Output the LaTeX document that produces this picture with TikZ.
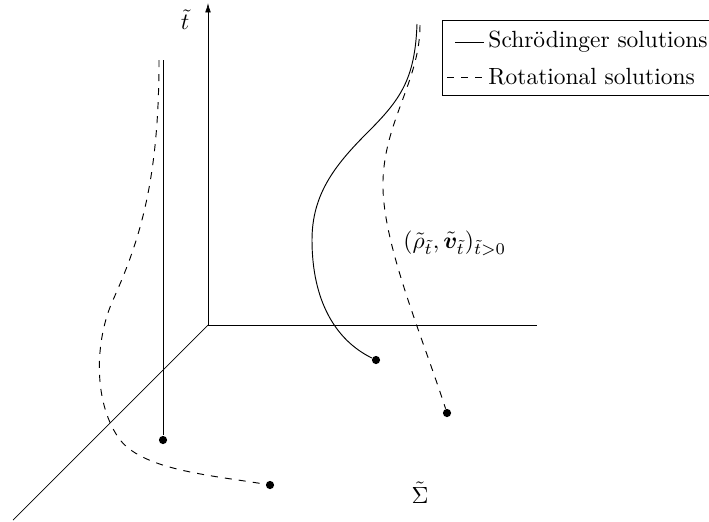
\documentclass[tikz,border=0pt]{standalone}
\usepackage{amsmath}
\usepackage{amssymb}
\usepackage{bm}
\usetikzlibrary{arrows.meta}

\begin{document}
\begin{tikzpicture}[x=0.015cm,y=-0.015cm,>=Latex,
  axis/.style={line width=0.3pt},
  path/.style={line width=0.4pt},
  enddot/.style={circle,fill,inner sep=0pt,minimum size=3.5pt}]
\useasboundingbox (0,0) rectangle (709,521);

% axes
\coordinate (o) at (208,325);
\coordinate (ttop) at (208,3);
\coordinate (xend) at (537,325);
\coordinate (yend) at (13,520);
\draw[axis,-{Latex[length=4pt,width=2.4pt]}] (o) -- (ttop);
\draw[axis] (o) -- (xend);
\draw[axis] (o) -- (yend);
\node (tlabel) at (185,20) {$\tilde{t}$};
\node (slabel) at (420,493) {$\tilde{\Sigma}$};

% stationary Schroedinger solution
\coordinate (s1top) at (163,60);
\node[enddot] (s1) at (163,440) {};
\draw[path] (s1top) -- (s1);

% moving Schroedinger solution
\coordinate (s2top) at (417,24);
\node[enddot] (s2) at (376,360) {};
\draw[path] (s2top) .. controls (415,80) and (400,100) .. (367,133)
  .. controls (334,166) and (312,195) .. (312,240)
  .. controls (312,300) and (335,340) .. (s2);

% rotational solutions
\coordinate (r1top) at (159,60);
\node[enddot] (r1) at (270,485) {};
\draw[path,dashed] (r1top) .. controls (159,180) and (140,240) .. (113,300)
  .. controls (95,340) and (93,400) .. (118,437)
  .. controls (140,470) and (210,475) .. (r1);

\coordinate (r2top) at (420,25);
\node[enddot] (r2) at (447,413) {};
\draw[path,dashed] (r2top) .. controls (420,80) and (385,120) .. (383,180)
  .. controls (381,240) and (420,330) .. (r2);

\node[anchor=west,inner sep=0pt] (rholabel) at (403,243)
  {$(\tilde{\rho}_{\tilde{t}},\tilde{\bm{v}}_{\tilde{t}})_{\tilde{t}>0}$};

% legend
\draw[axis] (760,20) -- (442,20) -- (442,95) -- (760,95);
\coordinate (l1a) at (455,42);
\coordinate (l1b) at (484,42);
\coordinate (l2a) at (447,77);
\coordinate (l2b) at (484,77);
\draw[path] (l1a) -- (l1b);
\draw[path,dashed] (l2a) -- (l2b);
\node[anchor=west,inner sep=0pt] (leg1) at (488,42) {Schr\"odinger solutions};
\node[anchor=west,inner sep=0pt] (leg2) at (488,77) {Rotational solutions};
\end{tikzpicture}
\end{document}
